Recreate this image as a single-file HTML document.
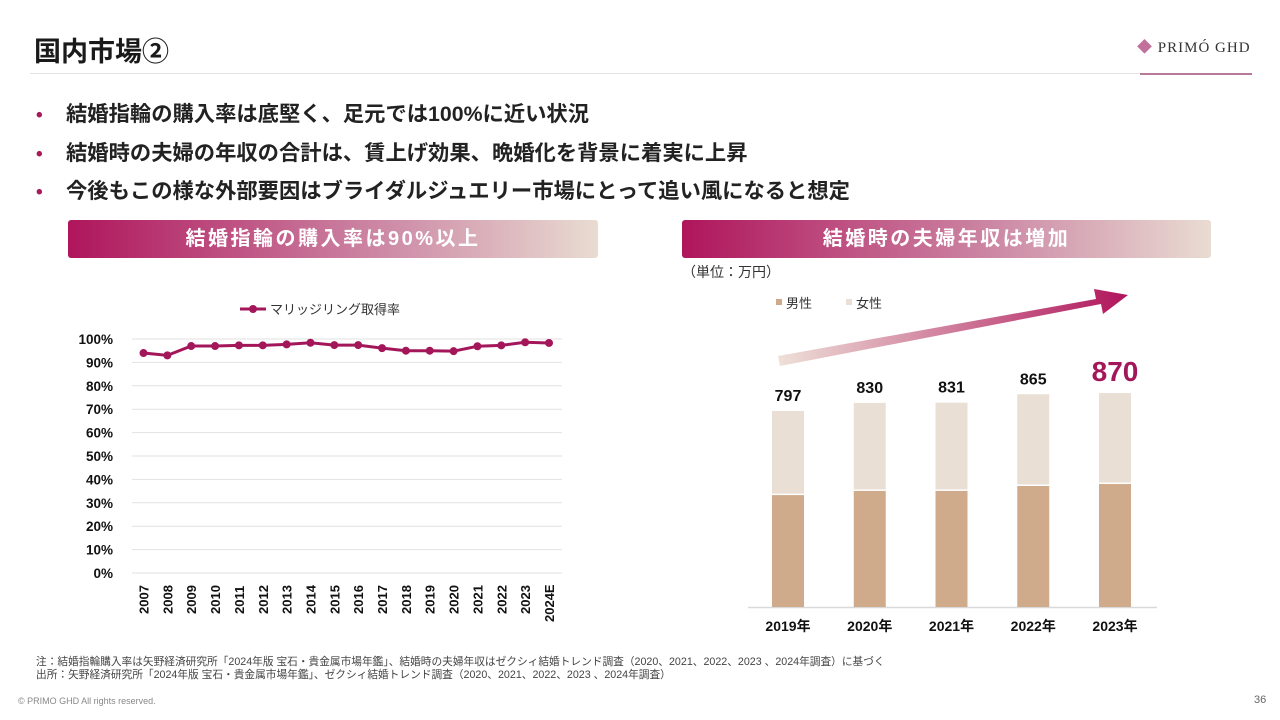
<!DOCTYPE html>
<html lang="ja"><head><meta charset="utf-8">
<style>
*{margin:0;padding:0;box-sizing:border-box}
body{width:1280px;height:720px;background:#fff;position:relative;overflow:hidden;font-family:"Liberation Sans","Noto Sans CJK JP",sans-serif;color:#222}
.abs{position:absolute;white-space:nowrap}
.title{left:34px;top:30px;font-size:27px;font-weight:bold;color:#1a1a1a}
.hr{left:30px;top:73px;width:1222px;height:1px;background:#e3e3e3}
.bul{left:36px;font-size:21.3px;font-weight:bold;color:#222}
.bul span{color:#a8195a;display:inline-block;width:30px;font-size:19px}
.banner{top:220px;height:38px;border-radius:3px;background:linear-gradient(90deg,#af155c,#cd8aa6 60%,#e9dcd2);color:#fff;font-size:20px;font-weight:bold;text-align:center;line-height:38px;letter-spacing:2.5px}
.note{left:36px;font-size:10.7px;color:#444}
</style></head><body>
<div class="abs title">国内市場②</div>
<div class="abs hr"></div>
<div class="abs" style="left:1137px;top:36px;font-size:15px;color:#333;letter-spacing:1px;font-family:'Liberation Serif','Noto Serif CJK SC',serif"><span style="color:#c0709a">◆</span> PRIMÓ GHD</div>
<div class="abs" style="left:1140px;top:73px;width:112px;height:2px;background:#b77a9a"></div>
<div class="abs bul" style="top:97px"><span>•</span>結婚指輪の購入率は底堅く、足元では100%に近い状況</div>
<div class="abs bul" style="top:136px"><span>•</span>結婚時の夫婦の年収の合計は、賃上げ効果、晩婚化を背景に着実に上昇</div>
<div class="abs bul" style="top:174px"><span>•</span>今後もこの様な外部要因はブライダルジュエリー市場にとって追い風になると想定</div>
<div class="abs banner" style="left:68px;width:530px">結婚指輪の購入率は90%以上</div>
<div class="abs banner" style="left:682px;width:529px">結婚時の夫婦年収は増加</div>
<div class="abs" style="left:682px;top:262px;font-size:14px;color:#333">（単位：万円）</div>

<svg id="lc" class="abs" style="left:0;top:0" width="640" height="640"></svg>
<svg id="rc" class="abs" style="left:640px;top:0" width="640" height="640">
<defs>
<linearGradient id="ag" x1="0" y1="0" x2="1" y2="0"><stop offset="0" stop-color="#eee0d8"/><stop offset="1" stop-color="#b0155c"/></linearGradient>
</defs>
<polygon fill="url(#ag)" points="138,356 456,299 454,289 488,295 463,314 461,304 140,366"/>
</svg>

<div class="abs note" style="top:654px">注：結婚指輪購入率は矢野経済研究所「2024年版 宝石・貴金属市場年鑑」、結婚時の夫婦年収はゼクシィ結婚トレンド調査（2020、2021、2022、2023 、2024年調査）に基づく</div>
<div class="abs note" style="top:667px">出所：矢野経済研究所「2024年版 宝石・貴金属市場年鑑」、ゼクシィ結婚トレンド調査（2020、2021、2022、2023 、2024年調査）</div>
<div class="abs" style="left:18px;top:696px;font-size:9px;color:#888">© PRIMO GHD All rights reserved.</div>
<div class="abs" style="left:1254px;top:694px;font-size:11px;color:#666">36</div>

<script>
const years=["2007","2008","2009","2010","2011","2012","2013","2014","2015","2016","2017","2018","2019","2020","2021","2022","2023","2024E"];
const rates=[94,93,97,97,97.3,97.3,97.7,98.4,97.4,97.4,96.1,95,95,94.8,96.9,97.3,98.6,98.3];
const yTicks=[0,10,20,30,40,50,60,70,80,90,100];
const barYears=["2019年","2020年","2021年","2022年","2023年"];
const male=[455,472,472,492,500];
const female=[342,358,359,373,370];
const totals=[797,830,831,865,870];

const NS="http://www.w3.org/2000/svg";
function mk(svg,tag,attrs,txt){const e=document.createElementNS(NS,tag);for(const k in attrs)e.setAttribute(k,attrs[k]);if(txt!==undefined)e.textContent=txt;svg.appendChild(e);return e;}
const F='"Liberation Sans","Noto Sans CJK JP",sans-serif';

// left chart
const lc=document.getElementById('lc');
const x0=143.5,dx=(549-143.5)/17;
const lx=i=>x0+i*dx;
const ly=v=>573-v*(573-339)/100;
yTicks.forEach(t=>{
 const g=mk(lc,'line',{x1:132,x2:562,y1:ly(t),y2:ly(t),stroke:'#e2e2e2','stroke-width':1});
 
 const tx=mk(lc,'text',{x:113,y:ly(t)+5,'text-anchor':'end','font-size':13.5,'font-weight':'bold','font-family':F,fill:'#111'},t+'%');
 
});
years.forEach((y,i)=>{
 const t=mk(lc,'text',{transform:`translate(${lx(i)+5},${y==="2024E"?622:614}) rotate(-90)`,'font-size':13,'font-weight':'bold','font-family':F,fill:'#111'},y);
 
});
const pl=mk(lc,'polyline',{points:rates.map((v,i)=>lx(i)+','+ly(v)).join(' '),fill:'none',stroke:'#a3175a','stroke-width':3});

rates.forEach((v,i)=>{const c=mk(lc,'circle',{cx:lx(i),cy:ly(v),r:4,fill:'#a3175a'});
 });
const lg=mk(lc,'line',{x1:240,x2:266,y1:309,y2:309,stroke:'#a3175a','stroke-width':3});

const lgc=mk(lc,'circle',{cx:253,cy:309,r:4,fill:'#a3175a'});

const lgt=mk(lc,'text',{x:270,y:314,'font-size':13,'font-family':F,fill:'#333'},'マリッジリング取得率');


// right chart (offset 640)
const rc=document.getElementById('rc');
const base=607,k=196/797,bw=32;
const bx=i=>148+i*81.75;
const ax=mk(rc,'line',{x1:108,x2:517,y1:base+0.5,y2:base+0.5,stroke:'#d9d9d9','stroke-width':1.5});

barYears.forEach((y,i)=>{
 const mh=male[i]*k,fh=female[i]*k;
 const m=mk(rc,'rect',{x:bx(i)-bw/2,y:base-mh,width:bw,height:mh,fill:'#d0ab8b'});
 
 const f=mk(rc,'rect',{x:bx(i)-bw/2,y:base-mh-fh,width:bw,height:fh-1.5,fill:'#eadfd4'});
 
 const last=i===totals.length-1;
 const tl=mk(rc,'text',{x:bx(i),y:base-mh-fh-(last?12:10),'text-anchor':'middle','font-size':last?28:16,'font-weight':'bold','font-family':F,fill:last?'#a3175a':'#111'},totals[i]);
 
 const xl=mk(rc,'text',{x:bx(i),y:631,'text-anchor':'middle','font-size':14,'font-weight':'bold','font-family':F,fill:'#111'},y);
 
});
const l1=mk(rc,'rect',{x:136,y:299,width:6,height:6,fill:'#d0ab8b'});

const l1t=mk(rc,'text',{x:146,y:308,'font-size':13,'font-family':F,fill:'#333'},'男性');

const l2=mk(rc,'rect',{x:206,y:299,width:6,height:6,fill:'#eadfd4'});

const l2t=mk(rc,'text',{x:216,y:308,'font-size':13,'font-family':F,fill:'#333'},'女性');

</script>
</body></html>
